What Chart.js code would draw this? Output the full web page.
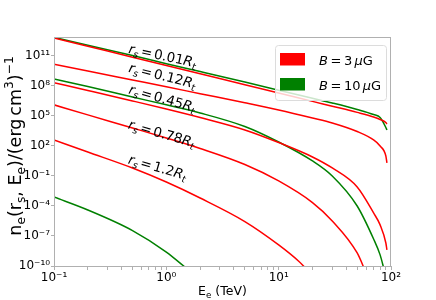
<!DOCTYPE html>
<html>
<head>
<meta charset="utf-8">
<script src="https://cdn.jsdelivr.net/npm/chart.js"></script>
<style>
  html, body { margin: 0; padding: 0; background: #fff; }
</style>
</head>
<body>
<canvas id="myChart" width="436" height="300"></canvas>
<script>
// electron energies (TeV) for each curve
const eFull = [0.1, 0.2, 0.5, 1, 2, 5, 10, 20, 30, 50, 70, 80, 90, 92];
const eGreen001 = [0.1, 0.2, 0.5, 1, 2, 5, 10, 20, 30, 50, 70, 80, 85, 90, 92];
const eGreen045 = [0.1, 0.2, 0.5, 1, 2, 5, 10, 20, 30, 50, 70, 80, 87];
const eRed078 = [0.1, 0.2, 0.5, 1, 2, 5, 10, 20, 30, 50, 60];
const eRed12 = [0.1, 0.2, 0.5, 1, 2, 5, 10, 15, 18];
const eGreenLow = [0.1, 0.2, 0.5, 1, 1.5];

// n_e values, B = 3 uG (red)
const red001 = [6.3e12, 9.3e11, 7.6e10, 1.1e10, 1.7e9, 1.3e8, 2.0e7, 2.9e6, 9.5e5, 2.3e5, 8.0e4, 4.5e4, 2.2e4, 1.6e4];
const red012 = [1.5e10, 3.2e9, 4.0e8, 8.3e7, 1.7e7, 2.1e6, 4.0e5, 6.3e4, 2.0e4, 2.8e3, 4.0e2, 1.0e2, 10, 2];
const red045 = [2.1e8, 3.5e7, 3.2e6, 5.0e5, 7.0e4, 4.0e3, 2.2e2, 8, 0.63, 7.9e-3, 2.0e-5, 1.3e-6, 2.0e-8, 4.0e-9];
const red078 = [1.3e6, 1.3e5, 6.3e3, 6.3e2, 56, 1.4, 3.2e-2, 2.2e-4, 3.2e-6, 2.0e-9, 2.0e-11];
const red12 = [4.0e2, 25, 0.63, 2.5e-2, 6.3e-4, 2.8e-6, 1.3e-8, 3.2e-10, 4.0e-11];

// n_e values, B = 10 uG (green)
const green001 = [7.4e12, 1.2e12, 1.1e11, 1.7e10, 2.8e9, 2.5e8, 3.8e7, 5.9e6, 2.0e6, 4.5e5, 1.4e5, 7.1e4, 2.5e4, 7.0e3, 4.0e3];
const green045 = [5.0e8, 8.9e7, 7.9e6, 1.3e6, 2.0e5, 8.9e3, 2.5e2, 3.2, 0.1, 1.0e-4, 5.0e-8, 1.3e-9, 4.0e-11];
const greenLow = [7.9e-4, 4.0e-5, 3.5e-7, 2.5e-9, 6.3e-11];

const radiusLabels = ['0.01', '0.12', '0.45', '0.78', '1.2'];
const legendLabels = ['3', '10'];
const xMajor = [0.1, 1, 10, 100];
const xMinor = [0.2, 0.3, 0.4, 0.5, 0.6, 0.7, 0.8, 0.9, 2, 3, 4, 5, 6, 7, 8, 9, 20, 30, 40, 50, 60, 70, 80, 90];
const yMajor = [1e-10, 1e-7, 1e-4, 1e-1, 1e2, 1e5, 1e8, 1e11];

const RED = '#ff0000';
const GREEN = '#008000';
const FRAME = '#b0b0b0';
const FONT = '"DejaVu Sans"';

const pts = (xs, ys) => xs.map((x, i) => ({ x, y: ys[i] }));
const series = (xs, ys, color) => ({
  data: pts(xs, ys), borderColor: color, borderWidth: 1.5,
  pointRadius: 0, fill: false, cubicInterpolationMode: 'monotone'
});

const SUP = { '-': '⁻', '0': '⁰', '1': '¹', '2': '²', '3': '³', '4': '⁴', '5': '⁵', '6': '⁶', '7': '⁷', '8': '⁸', '9': '⁹' };
const pow10 = v => '10' + String(Math.round(Math.log10(v))).split('').map(c => SUP[c]).join('');

// parts: [text | gapEm, scale, dyEm, italic]
function drawRich(ctx, parts, x, y, size, angle, align) {
  ctx.save();
  ctx.translate(x, y);
  ctx.rotate(angle * Math.PI / 180);
  ctx.textBaseline = 'alphabetic';
  ctx.textAlign = 'left';
  const items = parts.map(([t, s = 1, dy = 0, it = false]) => {
    const font = (it ? 'italic ' : '') + (size * s) + 'px ' + FONT;
    ctx.font = font;
    const w = typeof t === 'number' ? t * size : ctx.measureText(t).width;
    return { t, font, w, dy: dy * size };
  });
  const total = items.reduce((acc, p) => acc + p.w, 0);
  let cx = align === 'center' ? -total / 2 : 0;
  items.forEach(p => {
    if (typeof p.t !== 'number') { ctx.font = p.font; ctx.fillText(p.t, cx, p.dy); }
    cx += p.w;
  });
  ctx.restore();
}

// where the r_s labels sit (data coords) and their tilt
const labelSpots = [[0.455, 2.0e11, 12], [0.455, 2.7e9, 14], [0.455, 1.9e7, 16], [0.45, 5.9e3, 16], [0.45, 1.9, 16]];

const decor = {
  id: 'decor',
  afterDatasetsDraw(chart) {
    const { ctx, chartArea: a, scales: { x, y } } = chart;
    ctx.save();
    ctx.strokeStyle = FRAME;
    ctx.lineWidth = 1;
    ctx.strokeRect(a.left + 0.5, a.top + 0.5, a.right - a.left - 1, a.bottom - a.top);
    ctx.fillStyle = '#000';

    radiusLabels.forEach((t, i) => {
      const [ex, ny, ang] = labelSpots[i];
      drawRich(ctx, [['r', 1, 0, true], ['s', 0.7, 0.22, true], [0.15], ['='], [0.15], [t], ['R', 1, 0, true], ['t', 0.7, 0.22, true]],
        x.getPixelForValue(ex), y.getPixelForValue(ny), 13.5, ang);
    });

    // legend
    const lx = a.right - 116, ly = a.top + 8, lw = 111, lh = 55;
    ctx.fillStyle = 'rgba(255,255,255,0.8)';
    ctx.strokeStyle = '#dcdcdc';
    ctx.beginPath();
    ctx.roundRect(lx + 0.5, ly + 0.5, lw, lh, 3);
    ctx.fill();
    ctx.stroke();
    [RED, GREEN].forEach((c, i) => {
      ctx.fillStyle = c;
      ctx.fillRect(lx + 5, ly + 8 + i * 25, 25, 12.5);
      ctx.fillStyle = '#000';
      drawRich(ctx, [['B', 1, 0, true], [0.2], ['='], [0.2], [legendLabels[i]], [0.17], ['μ', 1, 0, true], ['G']],
        lx + 44, ly + 19.5 + i * 25, 13, 0);
    });

    // axis titles
    drawRich(ctx, [['n'], ['e', 0.7, 0.2], ['(r'], ['s', 0.7, 0.2], [', E'], ['e', 0.7, 0.2], [')/(erg'], [0.17], ['cm'], ['3', 0.7, -0.45], [')'], ['−1', 0.7, -0.45]],
      21, 146, 17.5, -90, 'center');
    drawRich(ctx, [['E'], ['e', 0.7, 0.2], [' (TeV)']], (a.left + a.right) / 2, 295, 12.5, 0, 'center');
    ctx.restore();
  }
};

new Chart(document.getElementById('myChart').getContext('2d'), {
  type: 'line',
  data: {
    datasets: [
      series(eFull, red001, RED),
      series(eGreen001, green001, GREEN),
      series(eFull, red012, RED),
      series(eFull, red045, RED),
      series(eGreen045, green045, GREEN),
      series(eRed078, red078, RED),
      series(eRed12, red12, RED),
      series(eGreenLow, greenLow, GREEN)
    ]
  },
  options: {
    responsive: false,
    animation: false,
    layout: { padding: { top: 37, right: 45, bottom: 0, left: 0 } },
    plugins: { legend: { display: false }, tooltip: { enabled: false } },
    scales: {
      x: {
        type: 'logarithmic', min: 0.1, max: 100,
        afterBuildTicks: s => { s.ticks = xMajor.concat(xMinor).sort((p, q) => p - q).map(v => ({ value: v })); },
        afterFit: s => { s.height = 34; },
        ticks: {
          autoSkip: false, maxRotation: 0, padding: 1, color: '#000',
          font: { family: 'DejaVu Sans', size: 12 },
          callback: v => xMajor.includes(v) ? pow10(v) : ''
        },
        grid: { drawOnChartArea: false, tickLength: 4, color: FRAME },
        border: { display: false }
      },
      y: {
        type: 'logarithmic', min: 1e-10, max: 7.9e12,
        afterBuildTicks: s => { s.ticks = yMajor.map(v => ({ value: v })); },
        afterFit: s => { s.width = 54; },
        ticks: {
          autoSkip: false, padding: 1, color: '#000',
          font: { family: 'DejaVu Sans', size: 12 },
          callback: v => pow10(v)
        },
        grid: { drawOnChartArea: false, tickLength: 3, color: FRAME },
        border: { display: false }
      }
    }
  },
  plugins: [decor]
});
</script>
</body>
</html>
